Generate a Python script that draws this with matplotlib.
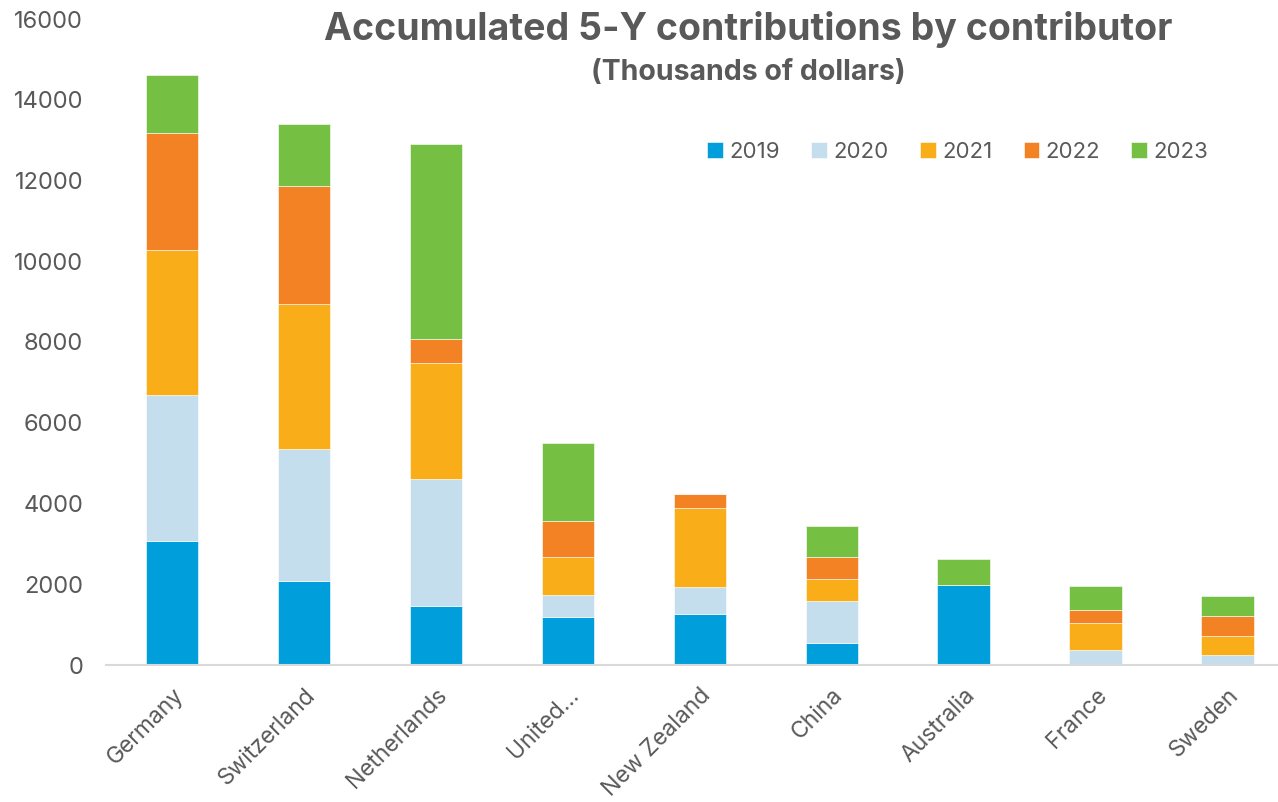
import matplotlib
matplotlib.use("Agg")
import matplotlib.pyplot as plt
import numpy as np

countries = ["Germany", "Switzerland", "Netherlands", "United...", "New Zealand",
             "China", "Australia", "France", "Sweden"]
years = ["2019", "2020", "2021", "2022", "2023"]
v2019 = [3080, 2080, 1470, 1200, 1270, 535, 1990, 0, 0]
v2020 = [3610, 3275, 3137, 525, 660, 1040, 0, 380, 240]
v2021 = [3600, 3577, 2868, 940, 1950, 545, 0, 650, 490]
v2022 = [2890, 2932, 591, 910, 355, 545, 0, 320, 485]
v2023 = [1440, 1525, 4844, 1915, 0, 790, 625, 610, 505]
series = [v2019, v2020, v2021, v2022, v2023]
colors = ["#009FDB", "#C5DEEE", "#F9AE19", "#F38224", "#75BF43"]

plt.rcParams['font.family'] = ['Inter', 'DejaVu Sans']
text_color = "#595959"

fig = plt.figure(figsize=(12.78, 8.02), dpi=100)
W, H = 1278, 802
ax = fig.add_axes([106 / W, 137 / H, (W - 106) / W, (665 - 19) / H])

x = np.arange(len(countries))
bottom = np.zeros(len(countries))
for yr, vals, c in zip(years, series, colors):
    vals = np.array(vals, dtype=float)
    ax.bar(x, vals, width=0.4, bottom=bottom, color=c, label=yr,
           edgecolor="white", linewidth=0.4)
    bottom += vals

ax.set_ylim(0, 16000)
ax.set_xlim(-0.5, 8.38)
ax.set_yticks(np.arange(0, 16001, 2000))
ax.set_yticklabels([str(v) for v in range(0, 16001, 2000)], fontsize=17, color=text_color)
ax.set_xticks(x)
ax.set_xticklabels(countries, rotation=45, ha="right", rotation_mode="anchor",
                   fontsize=16.5, color=text_color)
ax.tick_params(axis="both", length=0)
ax.tick_params(axis="y", pad=16.5)
ax.tick_params(axis="x", pad=14)
for s in ["top", "right", "left"]:
    ax.spines[s].set_visible(False)
ax.spines["bottom"].set_color("#D9D9D9")
ax.spines["bottom"].set_linewidth(1.5)

fig.text(748 / W, 1 - 30 / H, "Accumulated 5-Y contributions by contributor",
         ha="center", va="center", fontsize=27, fontweight="bold", color=text_color)
fig.text(748 / W, 1 - 72 / H, "(Thousands of dollars)",
         ha="center", va="center", fontsize=20.5, fontweight="bold", color=text_color)

leg = ax.legend(loc="center", bbox_to_anchor=(958 / W, 1 - 152 / H),
                bbox_transform=fig.transFigure, ncol=5, frameon=False,
                fontsize=16, handlelength=0.7, handleheight=0.7,
                handletextpad=0.3, columnspacing=1.4, labelcolor=text_color)

fig.savefig("out.png", dpi=100)
